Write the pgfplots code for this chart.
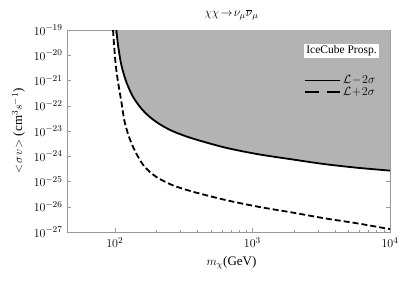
\documentclass[border=0pt]{standalone}
\usepackage{pgfplots}
\pgfplotsset{compat=1.18}
\usepackage{fontspec}
\setmainfont{Liberation Serif}
\definecolor{shade}{HTML}{B3B3B3}
\definecolor{frame}{HTML}{999999}
\begin{document}
\begin{tikzpicture}
\path[use as bounding box] (-67pt,-51pt) rectangle (332pt,232pt);
\begin{axis}[
  anchor=south west, at={(0pt,0pt)},
  scale only axis, width=323pt, height=202pt,
  xmode=log, ymode=log,
  xmin=45, xmax=10000, ymin=1e-27, ymax=1e-19,
  xtick={100,1000,10000},
  ytick={1e-27,1e-26,1e-25,1e-24,1e-23,1e-22,1e-21,1e-20,1e-19},
  minor y tick style={draw=none},
  tick align=inside,
  major tick length=4pt, minor tick length=2.5pt,
  axis line style={frame},
  every tick/.style={frame},
  tick label style={font=\fontsize{13}{14}\selectfont},
  yticklabel style={xshift=-1pt},
  xticklabel style={yshift=-2pt, font=\fontsize{12.5}{14}\selectfont},
  xlabel={$m_\chi$(GeV)},
  ylabel={$<\!\sigma v\!>$ (cm$^3 s^{-1}$)},
  label style={font=\fontsize{13}{14}\selectfont},
  xlabel style={yshift=-2pt, xshift=3pt},
  ylabel style={yshift=2pt},
  title={$\chi\chi\!\rightarrow\!\nu_\mu\overline{\nu}_\mu$},
  title style={font=\fontsize{13}{14}\selectfont, yshift=0pt, xshift=3pt},
  legend style={at={(0.97,0.795)}, anchor=north east, draw=none, fill=none,
    font=\fontsize{12}{14}\selectfont, row sep=-2pt},
  legend cell align=left,
  legend image code/.code={\draw[#1] (0cm,0cm) -- (1.25cm,0cm);},
]
\addplot[fill=shade, draw=none, forget plot] coordinates {
(102.8,1e-19) (105.6,2.55e-20) (111.7,4.1e-21) (121.3,8.9e-22) (135.5,2.3e-22)
(155.6,7.9e-23) (178.6,3.7e-23) (211,1.9e-23) (262,1.0e-23) (366,5.1e-24)
(636,2.2e-24) (1104,1.2e-24) (1919,7.6e-25) (3334,4.9e-25) (5794,3.5e-25)
(10000,2.7e-25) (10000,1e-19)} -- cycle;
\addplot[black, line width=1.8pt, smooth] coordinates {
(102.8,1e-19) (105.6,2.55e-20) (111.7,4.1e-21) (121.3,8.9e-22) (135.5,2.3e-22)
(155.6,7.9e-23) (178.6,3.7e-23) (211,1.9e-23) (262,1.0e-23) (366,5.1e-24)
(636,2.2e-24) (1104,1.2e-24) (1919,7.6e-25) (3334,4.9e-25) (5794,3.5e-25)
(10000,2.7e-25)};
\addlegendentry{$\mathcal{L}\!-\!2\sigma$}
\addplot[black, line width=1.8pt, dash pattern=on 6pt off 3pt, smooth,
  legend image post style={dash pattern=on 14pt off 8pt}] coordinates {
(97.2,1e-19) (98.9,2.55e-20) (101.7,4.1e-21) (105.6,8.9e-22) (111.7,1.45e-22)
(118,2.3e-23) (128.2,5.1e-24) (143.2,1.3e-24) (164.5,3.9e-25) (199.5,1.55e-25)
(262,7.2e-26) (366,4.0e-26) (636,1.86e-26) (1104,1.0e-26) (1919,6.0e-27)
(3334,3.5e-27) (5794,2.2e-27) (10000,1.3e-27)};
\addlegendentry{$\mathcal{L}\!+\!2\sigma$}
\node[fill=white, inner sep=2pt, font=\fontsize{11.5}{13}\selectfont, anchor=center]
  at (rel axis cs:0.85,0.895) {IceCube Prosp.};
\end{axis}
\end{tikzpicture}
\end{document}
